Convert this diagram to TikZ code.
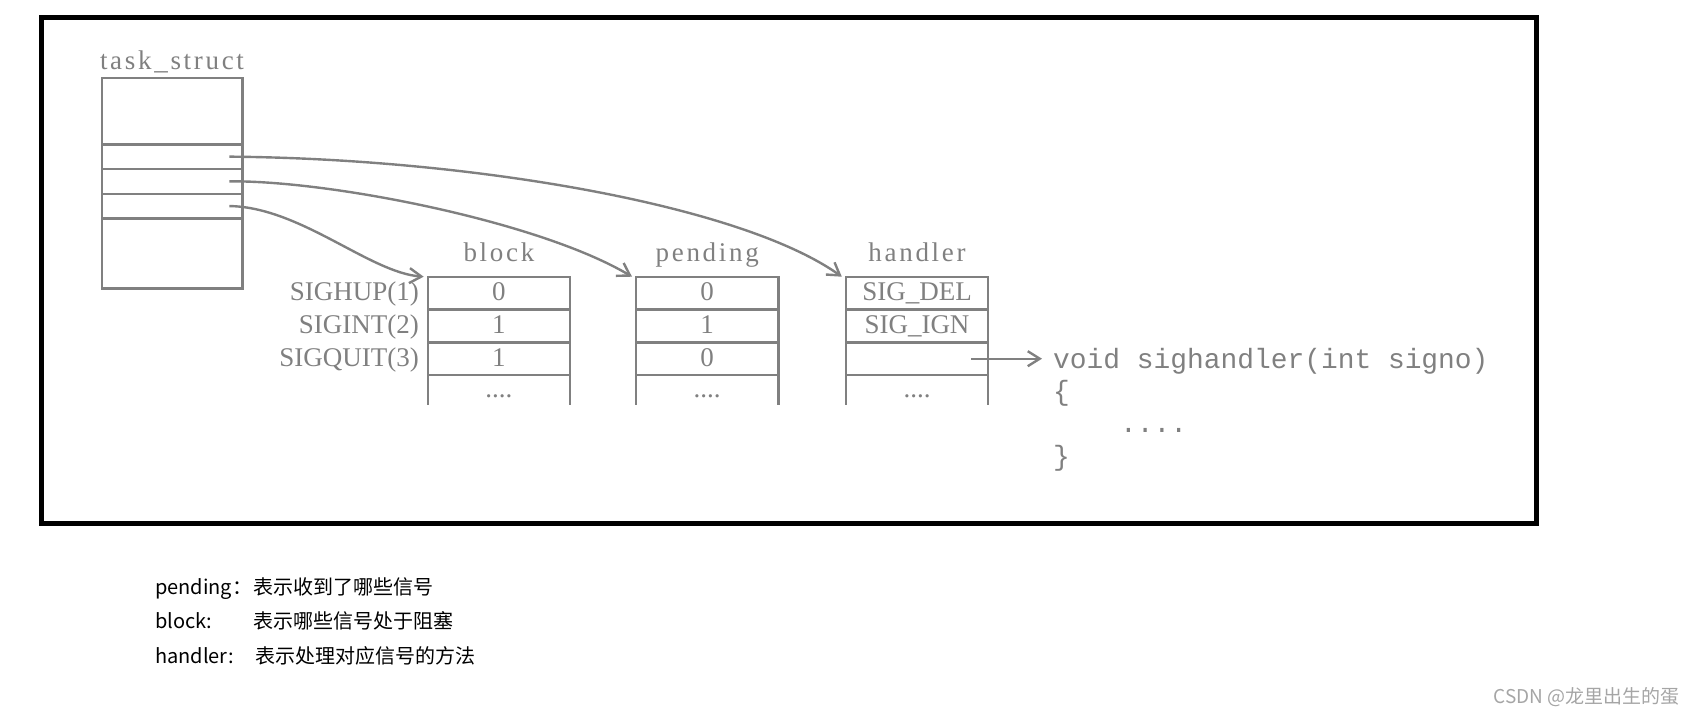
\documentclass[tikz,border=0pt]{standalone}
\usepackage{fontspec}
\usepackage{tikz}
\usetikzlibrary{arrows.meta, positioning, calc}

\newfontfamily\diagfont{Liberation Serif}
\newfontfamily\titlefont{Liberation Serif}[LetterSpace=10]
\newfontfamily\codefont{Liberation Mono}
\newfontfamily\cjkfont{Noto Sans CJK SC}

\definecolor{linegray}{RGB}{128,128,128}
\definecolor{markgray}{RGB}{165,165,165}

\tikzset{
  tsbox/.style={draw=linegray, line width=2.4pt, minimum width=140.6pt, inner sep=0pt, outer sep=0pt},
  cell/.style={draw=linegray, line width=2.4pt, minimum width=142.4pt, minimum height=32.8pt,
    inner sep=0pt, outer sep=0pt, text height=15pt, text depth=0pt, text=linegray,
    font=\diagfont\fontsize{27}{30}\selectfont},
  title/.style={inner sep=0pt, text height=18pt, text depth=0pt, text=linegray,
    font=\titlefont\fontsize{27}{30}\selectfont},
  siglab/.style={inner sep=0pt, text height=15pt, text depth=0pt, text=linegray,
    font=\diagfont\fontsize{27}{30}\selectfont},
  dots/.style={inner sep=0pt, anchor=base, text=linegray, font=\diagfont\fontsize{27}{30}\selectfont},
  code/.style={inner sep=0pt, anchor=base west, text=linegray, font=\codefont\fontsize{27.9}{30}\selectfont},
  ptr/.style={draw=linegray, line width=2.4pt, -{Straight Barb[length=12pt, width=15pt]}},
  note/.style={inner sep=0pt, anchor=base west, font=\cjkfont\fontsize{20}{24}\selectfont},
}

\begin{document}
\begin{tikzpicture}[x=1pt, y=1pt]
		\useasboundingbox (0,0) rectangle (1697,-718);
		\draw[line width=5pt] (41.5,-17.5) rectangle (1536.5,-523.5);

		% task_struct
		\node[tsbox, minimum height=66.6pt] (ts-top) at (172,-111) {};
		\node[tsbox, minimum height=24.7pt, below=0pt of ts-top] (ts-f1) {};
		\node[tsbox, minimum height=24.7pt, below=0pt of ts-f1] (ts-f2) {};
		\node[tsbox, minimum height=24.7pt, below=0pt of ts-f2] (ts-f3) {};
		\node[tsbox, minimum height=69.9pt, below=0pt of ts-f3] (ts-bot) {};
		\node[title, above=7.7pt of ts-top] (ts-title) {task\_struct};

		% block
		\node[cell] (blk-1) at (498.9,-293.1) {0};
		\node[cell, below=0pt of blk-1] (blk-2) {1};
		\node[cell, below=0pt of blk-2] (blk-3) {1};
		\node[title, above=14.7pt of blk-1] (blk-title) {block};

		% pending
		\node[cell] (pnd-1) at (707.2,-293.1) {0};
		\node[cell, below=0pt of pnd-1] (pnd-2) {1};
		\node[cell, below=0pt of pnd-2] (pnd-3) {0};
		\node[title, above=14.7pt of pnd-1] (pnd-title) {pending};

		% handler
		\node[cell] (hdl-1) at (917,-293.1) {SIG\_DEL};
		\node[cell, below=0pt of hdl-1] (hdl-2) {SIG\_IGN};
		\node[cell, below=0pt of hdl-2] (hdl-3) {};
		\node[title, above=14.7pt of hdl-1] (hdl-title) {handler};

		% open last rows
		\foreach \t in {blk,pnd,hdl}{
			\draw[draw=linegray, line width=2.4pt] (\t-3.south west) -- ++(0,-30);
			\draw[draw=linegray, line width=2.4pt] (\t-3.south east) -- ++(0,-30);
			\node[dots] (\t-dots) at ([yshift=-22pt]\t-3.south) {....};
		}

		% signal names
		\node[siglab, left=8.7pt of blk-1] (sig-1) {SIGHUP(1)};
		\node[siglab, left=8.7pt of blk-2] (sig-2) {SIGINT(2)};
		\node[siglab, left=8.7pt of blk-3] (sig-3) {SIGQUIT(3)};

		% handler code
		\node[code] (code-1) at (1053,-368) {void sighandler(int signo)};
		\node[code] (code-2) at (1053,-400) {\{};
		\node[code] (code-3) at (1120,-432) {....};
		\node[code] (code-4) at (1053,-465) {\}};

		% pointers
		\coordinate (ts-p1) at ([xshift=-13pt]ts-f1.east);
		\coordinate (ts-p2) at ([xshift=-13pt]ts-f2.east);
		\coordinate (ts-p3) at ([xshift=-13pt]ts-f3.east);
		\coordinate (hdl-ptr) at ([xshift=-17pt]hdl-3.east);

		\draw[ptr] (ts-p1) .. controls +(241,-2) and +(-101,72) .. ([xshift=-4pt]hdl-1.north west);
		\draw[ptr] (ts-p2) .. controls +(101,1) and +(-92,55) .. ([xshift=-4pt]pnd-1.north west);
		\draw[ptr] (ts-p3) .. controls +(71,-1) and +(-54,4) .. ([xshift=-4pt]blk-1.north west);
		\draw[ptr, shorten >=11pt] (hdl-ptr) -- (hdl-ptr -| code-1.west);

		% notes
		\node[note] (note-1) at (155,-594) {pending：};
		\node[note] (desc-1) at (253,-594) {表示收到了哪些信号};
		\node[note] (note-2) at (155,-628) {block:};
		\node[note] (desc-2) at (253,-628) {表示哪些信号处于阻塞};
		\node[note] (note-3) at (155,-663) {handler:};
		\node[note] (desc-3) at (255,-663) {表示处理对应信号的方法};

		\node[note, anchor=base east, text=markgray, font=\cjkfont\fontsize{19}{22}\selectfont] (mark) at (1680,-703) {CSDN @龙里出生的蛋};
	  \end{tikzpicture}
\end{document}
